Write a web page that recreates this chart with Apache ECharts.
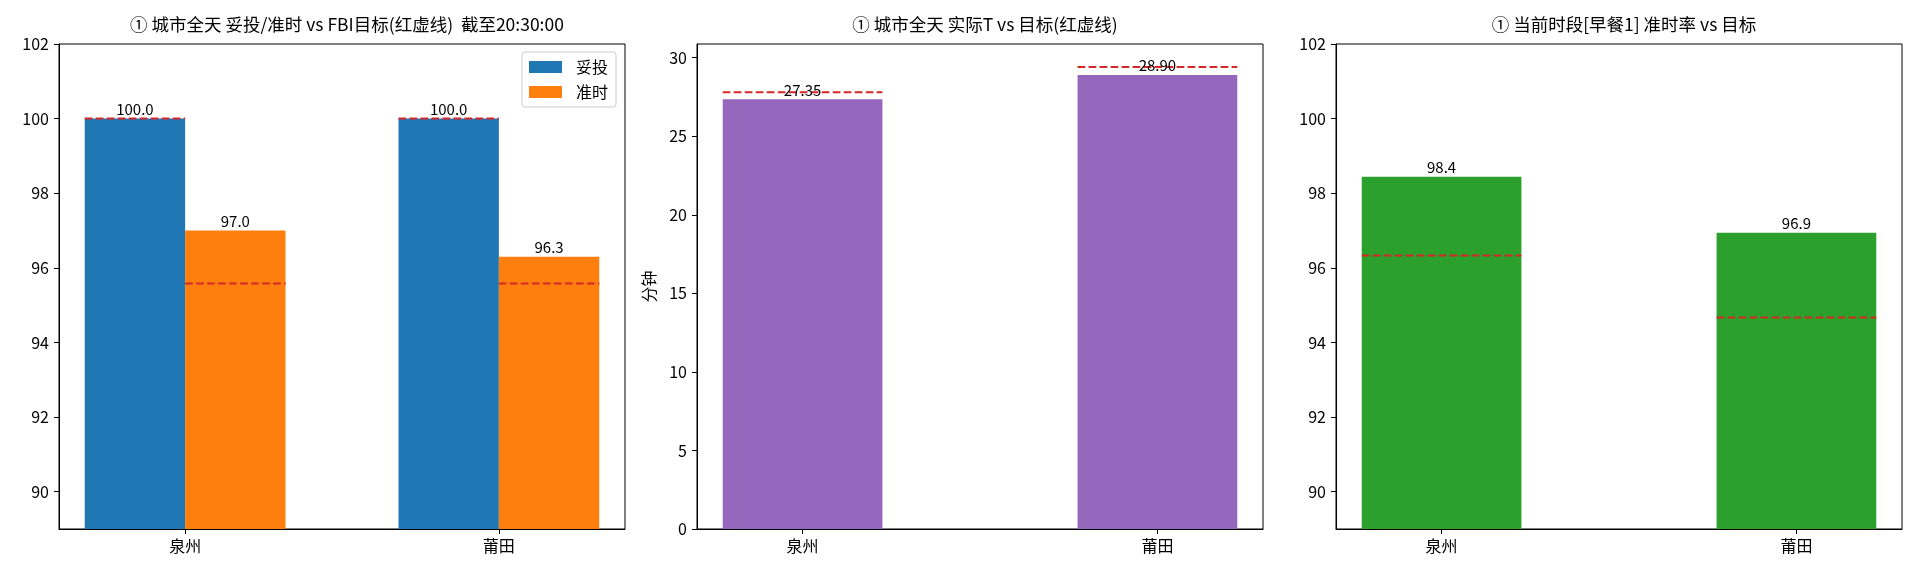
<!DOCTYPE html>
<html>
<head>
<meta charset="utf-8">
<script src="https://cdn.jsdelivr.net/npm/echarts@6/dist/echarts.min.js"></script>
<style>
  html, body { margin: 0; padding: 0; background: #fff; }
  #chart { width: 1920px; height: 576px; }
</style>
</head>
<body>
<div id="chart"></div>
<script>
// data
const cities = ['泉州', '莆田'];
const signedRate = [100.0, 100.0];     // 妥投
const onTimeRate = [97.0, 96.3];       // 准时
const signedTarget = [100.0, 100.0];
const onTimeTarget = [95.58, 95.58];
const actualT = [27.35, 28.90];        // 分钟
const targetT = [27.8, 29.4];
const mealRate = [98.44, 96.94];       // 早餐1 准时率
const mealTarget = [96.33, 94.67];
const rateTicks = [90, 92, 94, 96, 98, 100, 102];
const minuteTicks = [0, 5, 10, 15, 20, 25, 30];

const FONT = '"Noto Sans CJK SC", "Noto Sans", sans-serif';
const RED = '#d62728';
const TOP = 44, H = 485, W = 566;
const LEFTS = [59, 697, 1336];

// matplotlib-like x extent: bar extent plus 5% margin each side
function xExtent(lo, hi) {
  const m = (hi - lo) * 0.05;
  return [lo - m, hi + m];
}
const W1 = 0.32, W2 = 0.45;
const ext1 = xExtent(-W1, 1 + W1);
const ext2 = xExtent(-W2 / 2, 1 + W2 / 2);
const px = (w, ext) => w * W / (ext[1] - ext[0]);

const xs = cities.map((c, i) => i);
const pairs = (xv, yv) => xv.map((x, i) => [x, yv[i]]);

function xAxis(idx, ext) {
  return {
    type: 'value', gridIndex: idx, min: ext[0], max: ext[1],
    splitLine: { show: false },
    axisLine: { show: true, onZero: false, lineStyle: { color: '#000', width: 1 } },
    axisTick: { show: true, customValues: xs, length: 5, lineStyle: { color: '#000' } },
    axisLabel: {
      customValues: xs, margin: 9, color: '#000', fontSize: 16, fontFamily: FONT,
      formatter: v => cities[Math.round(v)]
    }
  };
}

function yAxis(idx, min, max, ticks, name) {
  return {
    type: 'value', gridIndex: idx, min: min, max: max,
    name: name || '', nameLocation: 'middle', nameGap: 40, nameRotate: 90,
    nameTextStyle: { color: '#000', fontSize: 16, fontFamily: FONT },
    splitLine: { show: false },
    axisLine: { show: true, onZero: false, lineStyle: { color: '#000', width: 1 } },
    axisTick: { show: true, customValues: ticks, length: 5, lineStyle: { color: '#000' } },
    axisLabel: { customValues: ticks, margin: 10, color: '#000', fontSize: 16, fontFamily: FONT }
  };
}

function bars(name, idx, data, color, width) {
  return {
    name: name, type: 'bar', xAxisIndex: idx, yAxisIndex: idx,
    data: data, barWidth: width, barGap: '-100%', z: 2,
    itemStyle: { color: color }, silent: true
  };
}

// transparent copy that only carries the value labels, drawn above the target lines
function barLabels(idx, data, width, digits) {
  return {
    name: 'label' + idx + '_' + data[0][0], type: 'bar', xAxisIndex: idx, yAxisIndex: idx,
    data: data, barWidth: width, barGap: '-100%', z: 4, silent: true,
    itemStyle: { color: 'rgba(0,0,0,0)' },
    label: {
      show: true, position: 'top', distance: 2, color: '#000',
      fontSize: 15, fontFamily: FONT,
      formatter: p => p.value[1].toFixed(digits)
    }
  };
}

function targets(idx, data, halfW) {
  return {
    name: 'target' + idx + '_' + data[0][0], type: 'custom', xAxisIndex: idx, yAxisIndex: idx,
    data: data, z: 3, silent: true,
    renderItem: (params, api) => {
      const x = api.value(0), y = api.value(1);
      const a = api.coord([x - halfW, y]);
      const b = api.coord([x + halfW, y]);
      return {
        type: 'line',
        shape: { x1: a[0], y1: a[1], x2: b[0], y2: b[1] },
        style: { stroke: RED, lineWidth: 2, lineDash: [7.7, 3.3] }
      };
    }
  };
}

const bw1 = px(W1, ext1), bw2 = px(W2, ext2);
const xsLeft = xs.map(x => x - W1 / 2), xsRight = xs.map(x => x + W1 / 2);

const titleStyle = { color: '#000', fontSize: 17.5, fontWeight: 'normal', fontFamily: FONT };

const option = {
  animation: false,
  backgroundColor: '#fff',
  title: [
    '① 城市全天 妥投/准时 vs FBI目标(红虚线)  截至20:30:00',
    '① 城市全天 实际T vs 目标(红虚线)',
    '① 当前时段[早餐1] 准时率 vs 目标'
  ].map((t, i) => ({
    text: t, left: LEFTS[i] + W / 2, top: 11, textAlign: 'center', textStyle: titleStyle
  })),
  legend: {
    data: ['妥投', '准时'], orient: 'vertical', left: 522, top: 52,
    icon: 'rect', itemWidth: 33, itemHeight: 12, itemGap: 9,
    padding: [7, 8, 7, 7],
    backgroundColor: 'rgba(255,255,255,0.8)', borderColor: '#ccc', borderWidth: 1, borderRadius: 3,
    textStyle: { color: '#000', fontSize: 16, fontFamily: FONT, padding: [0, 0, 0, 9] },
    selectedMode: false
  },
  grid: LEFTS.map(l => ({
    left: l, top: TOP, width: W, height: H,
    show: true, borderColor: '#000', borderWidth: 1, backgroundColor: 'transparent'
  })),
  xAxis: [xAxis(0, ext1), xAxis(1, ext2), xAxis(2, ext2)],
  yAxis: [
    yAxis(0, 89, 102, rateTicks),
    yAxis(1, 0, targetT[1] * 1.05, minuteTicks, '分钟'),
    yAxis(2, 89, 102, rateTicks)
  ],
  series: [
    bars('妥投', 0, pairs(xsLeft, signedRate), '#1f77b4', bw1),
    bars('准时', 0, pairs(xsRight, onTimeRate), '#ff7f0e', bw1),
    targets(0, pairs(xsLeft, signedTarget), W1 / 2),
    targets(0, pairs(xsRight, onTimeTarget), W1 / 2),
    barLabels(0, pairs(xsLeft, signedRate), bw1, 1),
    barLabels(0, pairs(xsRight, onTimeRate), bw1, 1),

    bars('实际T', 1, pairs(xs, actualT), '#9467bd', bw2),
    targets(1, pairs(xs, targetT), W2 / 2),
    barLabels(1, pairs(xs, actualT), bw2, 2),

    bars('早餐1', 2, pairs(xs, mealRate), '#2ca02c', bw2),
    targets(2, pairs(xs, mealTarget), W2 / 2),
    barLabels(2, pairs(xs, mealRate), bw2, 1)
  ]
};

const chart = echarts.init(document.getElementById('chart'), null, { renderer: 'canvas' });
chart.setOption(option);
</script>
</body>
</html>
